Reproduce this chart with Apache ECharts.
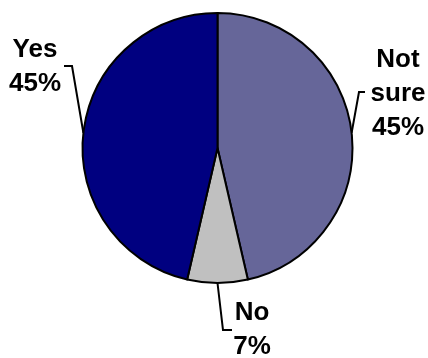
<!DOCTYPE html>
<html>
<head>
<meta charset="utf-8">
<script src="https://cdn.jsdelivr.net/npm/echarts@6/dist/echarts.min.js"></script>
<style>
  html, body { margin: 0; padding: 0; background: #fff; }
  #chart { width: 428px; height: 358px; }
</style>
</head>
<body>
<div id="chart"></div>
<script>
// Survey answers, clockwise from 12 o'clock
const categories = ['Not sure', 'No', 'Yes'];
const percents = [45, 7, 45];
const sliceColors = ['#666699', '#C0C0C0', '#000080'];

// Label anchors (centre of each text block) and leader-line elbows
const labelSpots = [
  { x: 398, y: 94, elbow: [359, 92], end: [365, 92] },
  { x: 252, y: 330, elbow: [223, 330], end: [232, 330] },
  { x: 35, y: 67, elbow: [72, 66], end: [64, 66] }
];

const chart = echarts.init(document.getElementById('chart'), null, { renderer: 'canvas' });

chart.setOption({
  animation: false,
  backgroundColor: '#ffffff',
  series: [{
    type: 'pie',
    center: [217.5, 148],
    radius: [0, 135],
    startAngle: 90,
    clockwise: true,
    avoidLabelOverlap: false,
    itemStyle: { borderColor: '#000000', borderWidth: 2 },
    label: {
      show: true,
      position: 'outside',
      color: '#000000',
      fontFamily: 'Liberation Sans, Arial, sans-serif',
      fontWeight: 'bold',
      fontSize: 26,
      lineHeight: 34,
      align: 'center',
      formatter: p => p.name.replace(' ', '\n') + '\n' + p.value + '%'
    },
    labelLine: {
      show: true,
      length: 10,
      length2: 10,
      smooth: false,
      lineStyle: { color: '#000000', width: 2 }
    },
    labelLayout: function (params) {
      const s = labelSpots[params.dataIndex];
      const start = params.labelLinePoints ? params.labelLinePoints[0] : s.elbow;
      return {
        x: s.x,
        y: s.y,
        align: 'center',
        verticalAlign: 'middle',
        labelLinePoints: [start, s.elbow, s.end]
      };
    },
    emphasis: { disabled: true },
    data: categories.map((name, i) => ({
      name: name,
      value: percents[i],
      itemStyle: { color: sliceColors[i] }
    }))
  }]
});
</script>
</body>
</html>
